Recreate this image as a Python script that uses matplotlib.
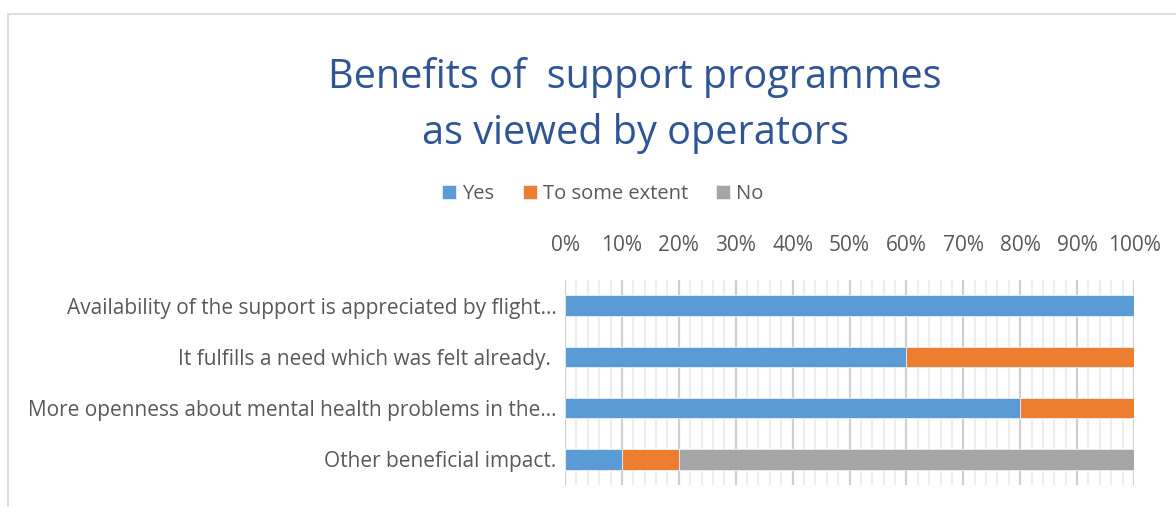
import numpy as np
import matplotlib.pyplot as plt
from matplotlib.patches import Rectangle
from matplotlib.ticker import MultipleLocator, PercentFormatter

categories = [
    "Availability of the support is appreciated by flight…",
    "It fulfills a need which was felt already. ",
    "More openness about mental health problems in the…",
    "Other beneficial impact.",
]
yes = [1.0, 0.6, 0.8, 0.1]
some_extent = [0.0, 0.4, 0.2, 0.1]
no = [0.0, 0.0, 0.0, 0.8]

series_names = ["Yes", "To some extent", "No"]
colors = ["#5B9BD5", "#ED7D31", "#A5A5A5"]

plt.rcParams["font.family"] = ["Open Sans", "DejaVu Sans"]

fig = plt.figure(figsize=(11.76, 5.07), dpi=100)

# light outer frame of the chart area
fig.patches.append(Rectangle((8 / 1176, -0.1), 1.2, 1 - 14 / 507 + 0.1,
                             transform=fig.transFigure, fill=False,
                             edgecolor="#D9D9D9", linewidth=1.2))

ax = fig.add_axes([565 / 1176, 1 - 485 / 507, 569 / 1176, 205 / 507])

y = np.arange(len(categories))
left = np.zeros(len(categories))
for name, vals, c in zip(series_names, [yes, some_extent, no], colors):
    ax.barh(y, vals, left=left, height=0.4, color=c, label=name,
            edgecolor="#E8F0FA", linewidth=0.6, zorder=3)
    left += np.array(vals)

ax.set_xlim(0, 1)
ax.set_ylim(3.5, -0.5)
ax.set_yticks(y)
ax.set_yticklabels(categories, fontsize=15, color="#595959")

ax.xaxis.set_major_locator(MultipleLocator(0.1))
ax.xaxis.set_minor_locator(MultipleLocator(0.02))
ax.xaxis.set_major_formatter(PercentFormatter(1.0, decimals=0))
ax.xaxis.tick_top()
ax.tick_params(axis="x", which="both", length=0, pad=17, labelsize=15,
               labelcolor="#595959")
ax.tick_params(axis="y", length=0, pad=6)

ax.grid(which="minor", axis="x", color="#EEEEEE", linewidth=1.6, zorder=0)
ax.grid(which="major", axis="x", color="#D0D0D0", linewidth=1.6, zorder=1)
for s in ax.spines.values():
    s.set_visible(False)

fig.text(635 / 1176, 1 - 78 / 507, "Benefits of  support programmes",
         ha="center", va="center", fontsize=28.5, color="#2F5597")
fig.text(635 / 1176, 1 - 133 / 507, "as viewed by operators",
         ha="center", va="center", fontsize=28.5, color="#2F5597")

fig.legend(loc="center", bbox_to_anchor=(603 / 1176, 1 - 194 / 507), ncol=3,
           frameon=False, fontsize=14.5, labelcolor="#595959",
           handlelength=0.7, handleheight=0.7, handletextpad=0.3,
           columnspacing=1.4)

fig.savefig("out.png", dpi=100, facecolor="white")
